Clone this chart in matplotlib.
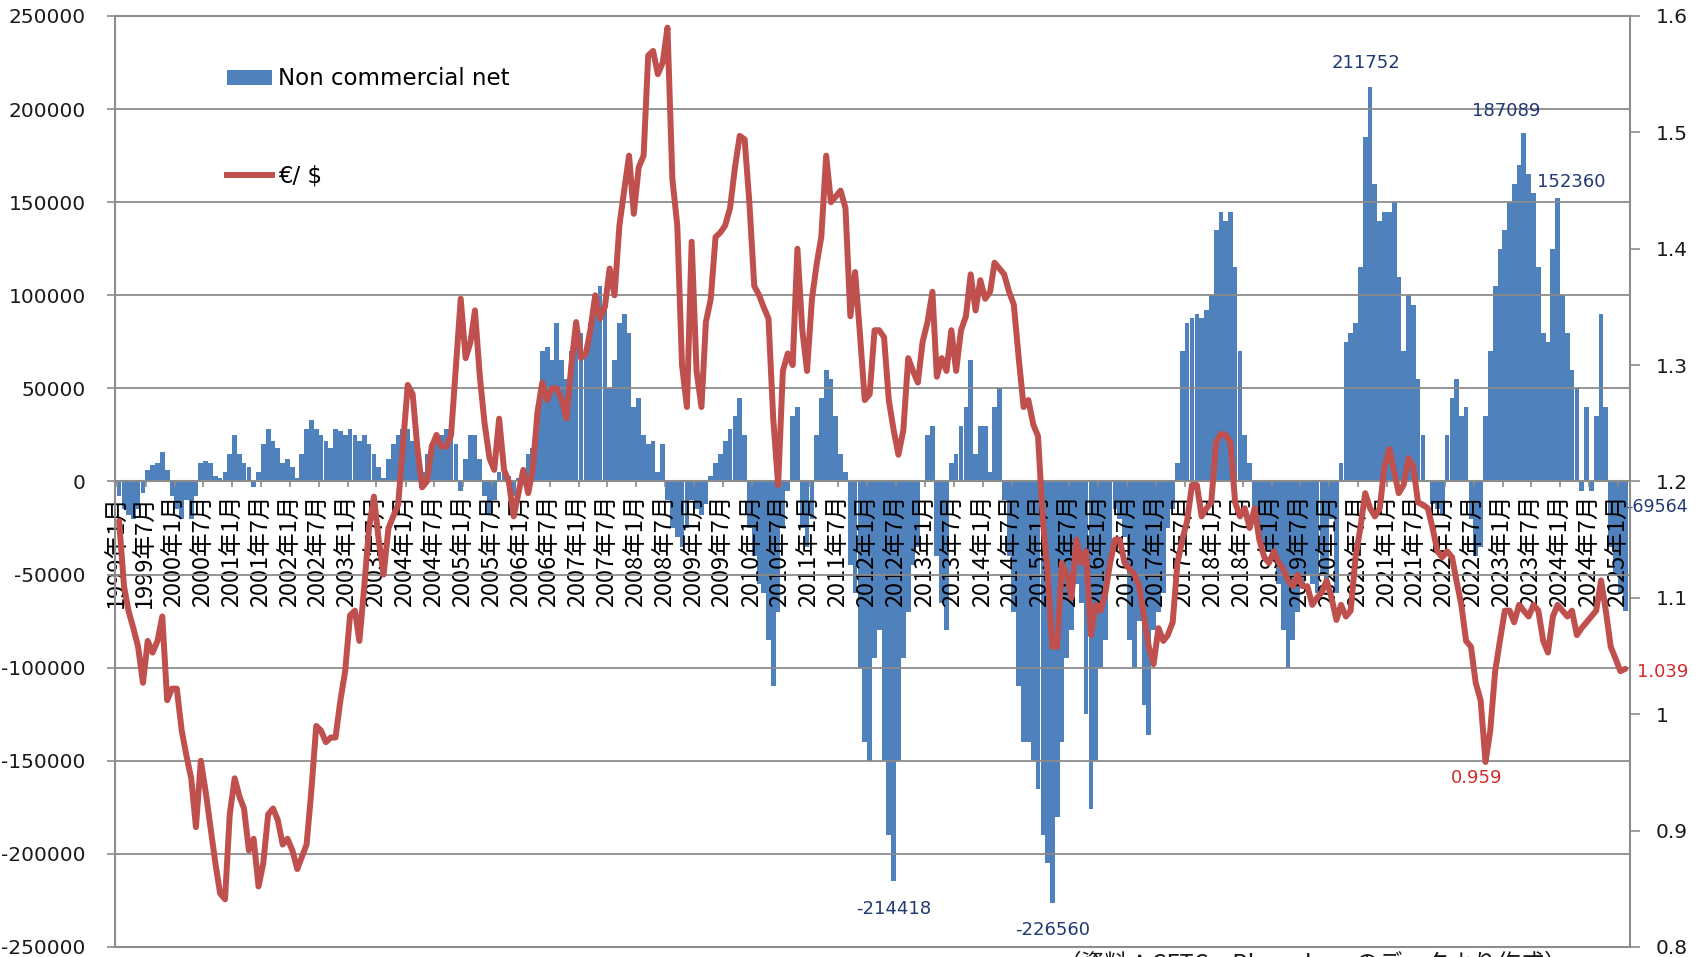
import matplotlib
matplotlib.use("Agg")
import matplotlib.dates as mdates
import matplotlib.pyplot as plt
import numpy as np
import pandas as pd
from matplotlib.lines import Line2D
from matplotlib.patches import Patch
from matplotlib.ticker import FuncFormatter, MultipleLocator

# monthly readings, Jan 1999 .. Feb 2025
# non commercial net positions (thousand contracts)
net_k = [
    -8, -15, -18, -20, -15, -6, 6, 9, 10, 16, 6, -8,                        # 1999
    -15, -20, -10, -20, -8, 10, 11, 10, 3, 2, 5, 15,                        # 2000
    25, 15, 10, 8, -3, 5, 20, 28, 22, 18, 10, 12,                           # 2001
    8, 2, 15, 28, 33, 28, 25, 22, 18, 28, 27, 25,                           # 2002
    28, 25, 22, 25, 20, 15, 8, 2, 12, 20, 25, 28,                           # 2003
    28, 22, 15, 5, 15, 20, 22, 25, 28, 25, 20, -5,                          # 2004
    12, 25, 25, 12, -8, -18, -10, 5, 6, 3, -8, 2,                           # 2005
    5, 15, 18, 35, 70, 72, 65, 85, 65, 55, 70, 80,                          # 2006
    80, 70, 85, 100, 105, 95, 50, 65, 85, 90, 80, 40,                       # 2007
    45, 25, 20, 22, 5, 20, -10, -25, -30, -35, -25, -10,                    # 2008
    -15, -18, -12, 3, 10, 15, 22, 28, 35, 45, 25, -25,                      # 2009
    -40, -55, -60, -85, -110, -70, -25, -5, 35, 40, -25, -35,               # 2010
    -20, 25, 45, 60, 55, 35, 15, 5, -45, -60, -100, -140,                   # 2011
    -150, -95, -80, -150, -190, -214.418, -150, -95, -70, -45, -35, 0,      # 2012
    25, 30, -40, -65, -80, 10, 15, 30, 40, 65, 15, 30,                      # 2013
    30, 5, 40, 50, -10, -40, -70, -110, -140, -140, -150, -165,             # 2014
    -190, -205, -226.56, -180, -140, -95, -80, -55, -65, -125, -176, -150,  # 2015
    -100, -85, -45, -15, -20, -30, -85, -100, -75, -120, -136, -80,         # 2016
    -70, -60, -25, -15, 10, 70, 85, 88, 90, 88, 92, 100,                    # 2017
    135, 145, 140, 145, 115, 70, 25, 10, -15, -30, -35, -38,                # 2018
    -40, -55, -80, -100, -85, -70, -55, -50, -55, -60, -50, -55,            # 2019
    -20, -60, 10, 75, 80, 85, 115, 185, 211.752, 160, 140, 145,             # 2020
    145, 150, 110, 70, 100, 95, 55, 25, 0, -12, -15, -18,                   # 2021
    25, 45, 55, 35, 40, -20, -40, -35, 35, 70, 105, 125,                    # 2022
    135, 150, 160, 170, 187.089, 165, 155, 115, 80, 75, 125, 152.36,        # 2023
    100, 80, 60, 50, -5, 40, -5, 35, 90, 40, -35, -50,                      # 2024
    -60, -69.564,                                                           # 2025
]

# EUR/USD
eurusd = [
    1.166, 1.11, 1.089, 1.074, 1.058, 1.027, 1.063, 1.053, 1.063, 1.084, 1.012, 1.022,
    1.022, 0.986, 0.965, 0.945, 0.903, 0.96, 0.934, 0.903, 0.872, 0.846, 0.841, 0.914,
    0.945, 0.929, 0.919, 0.883, 0.893, 0.852, 0.872, 0.914, 0.919, 0.909, 0.888, 0.893,
    0.883, 0.867, 0.877, 0.888, 0.934, 0.99, 0.986, 0.976, 0.98, 0.98, 1.012, 1.037,
    1.085, 1.089, 1.063, 1.11, 1.16, 1.187, 1.15, 1.12, 1.16, 1.17, 1.18, 1.23,
    1.283, 1.275, 1.23, 1.195, 1.2, 1.23, 1.24, 1.23, 1.23, 1.24, 1.3, 1.357,
    1.306, 1.32, 1.347, 1.29, 1.25, 1.22, 1.21, 1.254, 1.21, 1.2, 1.17, 1.19,
    1.21, 1.19, 1.21, 1.26, 1.285, 1.27, 1.28, 1.28, 1.27, 1.254, 1.3, 1.337,
    1.306, 1.31, 1.33, 1.36, 1.34, 1.35, 1.383, 1.36, 1.42, 1.45, 1.48, 1.43,
    1.47, 1.48, 1.566, 1.57, 1.55, 1.56, 1.59, 1.46, 1.42, 1.3, 1.264, 1.406,
    1.295, 1.264, 1.337, 1.357, 1.41, 1.414, 1.42, 1.435, 1.47, 1.497, 1.494, 1.44,
    1.368, 1.36, 1.35, 1.34, 1.254, 1.197, 1.295, 1.31, 1.3, 1.4, 1.33, 1.295,
    1.357, 1.388, 1.41, 1.48, 1.44, 1.445, 1.45, 1.435, 1.342, 1.38, 1.326, 1.27,
    1.275, 1.33, 1.33, 1.324, 1.27, 1.244, 1.223, 1.244, 1.306, 1.295, 1.285, 1.32,
    1.337, 1.363, 1.29, 1.306, 1.295, 1.33, 1.295, 1.33, 1.342, 1.378, 1.347, 1.373,
    1.357, 1.363, 1.388, 1.383, 1.378, 1.363, 1.352, 1.306, 1.264, 1.27, 1.249, 1.239,
    1.166, 1.12, 1.058, 1.058, 1.13, 1.12, 1.1, 1.15, 1.13, 1.14, 1.068, 1.094,
    1.089, 1.105, 1.13, 1.15, 1.15, 1.13, 1.125, 1.12, 1.11, 1.084, 1.058, 1.043,
    1.074, 1.063, 1.068, 1.079, 1.13, 1.15, 1.166, 1.197, 1.197, 1.17, 1.177, 1.182,
    1.234, 1.241, 1.24, 1.234, 1.182, 1.17, 1.177, 1.16, 1.177, 1.15, 1.135, 1.13,
    1.14, 1.13, 1.125, 1.115, 1.11, 1.12, 1.11, 1.11, 1.094, 1.1, 1.105, 1.115,
    1.1, 1.081, 1.094, 1.084, 1.089, 1.135, 1.16, 1.19, 1.177, 1.17, 1.177, 1.213,
    1.228, 1.208, 1.19, 1.197, 1.22, 1.213, 1.182, 1.18, 1.177, 1.16, 1.14, 1.135,
    1.14, 1.135, 1.115, 1.094, 1.063, 1.058, 1.027, 1.012, 0.959, 0.986, 1.037, 1.063,
    1.089, 1.089, 1.079, 1.094, 1.089, 1.084, 1.094, 1.089, 1.063, 1.053, 1.084, 1.094,
    1.089, 1.084, 1.089, 1.068, 1.074, 1.079, 1.084, 1.089, 1.115, 1.089, 1.058, 1.048,
    1.037, 1.039,
]

legend_labels = ["Non commercial net", "€/ $"]
source_note = "（資料：CFTC、Bloombergのデータより作成）"

BLUE = "#4F81BD"
RED = "#C0504D"
GRID = "#8C8C8C"
NAVY = "#1F3A73"
TAG_RED = "#D42A2A"
INK = "#1A1A1A"

months = (pd.date_range("1999-01-01", periods=len(net_k), freq="MS")
          + pd.Timedelta(days=14)).to_pydatetime()
net = np.array(net_k) * 1000
fx = np.array(eurusd)

plt.rcParams["font.family"] = ["DejaVu Sans", "Noto Sans CJK JP"]

W, H = 1708, 957
fig = plt.figure(figsize=(W / 100, H / 100), dpi=100)
ax = fig.add_axes([115 / W, 1 - 947 / H, 1515 / W, 931 / H])
ax2 = ax.twinx()

ax.bar(months, net, width=30, color=BLUE, linewidth=0, zorder=1)
ax2.plot(months, fx, color=RED, lw=4.3, solid_joinstyle="round", solid_capstyle="round")

ax.set_xlim(pd.Timestamp("1998-12-20"), pd.Timestamp("2025-03-17"))
ax.set_ylim(-250000, 250000)
ax2.set_ylim(0.8, 1.6)

# spines
ax.spines["top"].set_visible(False)
ax.spines["right"].set_visible(False)
ax.spines["left"].set_color(GRID)
ax.spines["left"].set_linewidth(1.5)
ax.spines["bottom"].set_position(("data", 0))
ax.spines["bottom"].set_color(GRID)
ax.spines["bottom"].set_linewidth(1.5)
ax2.spines["left"].set_visible(False)
for side in ["top", "bottom", "right"]:
    ax2.spines[side].set_color(GRID)
    ax2.spines[side].set_linewidth(1.5)

# x axis: labels hang from the zero line
ax.xaxis.set_major_locator(mdates.MonthLocator(bymonth=[1, 7]))
ax.xaxis.set_major_formatter(FuncFormatter(
    lambda v, p: f"{mdates.num2date(v).year}年{mdates.num2date(v).month}月"))
ax.tick_params(axis="x", direction="out", length=4.5, width=1.2, color=GRID,
               labelrotation=90, labelsize=17, pad=5, labelcolor="black",
               labelfontfamily="Noto Sans CJK JP")

ax.yaxis.set_major_locator(MultipleLocator(50000))
ax.yaxis.set_major_formatter(FuncFormatter(lambda v, p: f"{v:.0f}"))
ax.tick_params(axis="y", direction="out", length=6, width=1.2, color=GRID,
               labelsize=14.5, pad=15, labelcolor=INK)
ax.yaxis.grid(True, color=GRID, lw=1.3)

ax2.yaxis.set_major_locator(MultipleLocator(0.1))
ax2.yaxis.set_major_formatter(FuncFormatter(lambda v, p: f"{round(v, 2):g}"))
ax2.tick_params(axis="y", direction="out", length=7.5, width=1.2, color=GRID,
                labelsize=14.5, pad=11, labelcolor=INK)

# legend
handles = [Patch(facecolor=BLUE, edgecolor="none"), Line2D([], [], color=RED, lw=4.3)]
ax2.legend(handles, legend_labels, loc="upper left", bbox_to_anchor=(0.074, 0.945),
           frameon=False, fontsize=16.5, labelspacing=3.25, handlelength=1.96,
           handleheight=0.62, handletextpad=0.26, borderpad=0, borderaxespad=0)


def tag(axis, x, y, text, dx, dy, color, ha="center", size=13):
    axis.annotate(text, xy=(x, y), xytext=(dx, dy), textcoords="offset pixels",
                  ha=ha, va="center", color=color, fontsize=size)


i_max = int(np.argmax(net))
i_min = int(np.argmin(net))
i_2012 = net_k.index(-214.418)
i_2023 = net_k.index(187.089)
i_2024 = net_k.index(152.36)
last = len(net) - 1
i_fx = eurusd.index(0.959)

tag(ax, months[i_max], net[i_max], f"{net[i_max]:.0f}", -4, 24, NAVY)
tag(ax, months[i_2023], net[i_2023], f"{net[i_2023]:.0f}", -18, 22, NAVY)
tag(ax, months[i_2024], net[i_2024], f"{net[i_2024]:.0f}", 14, 16, NAVY)
tag(ax, months[i_2012], net[i_2012], f"{net[i_2012]:.0f}", 0, -28, NAVY)
tag(ax, months[i_min], net[i_min], f"{net[i_min]:.0f}", 0, -27, NAVY)
tag(ax, months[last], net[last], f"{net[last]:.0f}", 1, 104, NAVY, ha="left", size=12.5)
tag(ax2, months[i_fx], fx[i_fx], f"{fx[i_fx]:.3f}", -9, -16, TAG_RED)
tag(ax2, months[last], fx[last], f"{fx[last]:.3f}", 12, -3, TAG_RED, ha="left")

# source note, cut by the lower edge as in the original
fig.text(1058 / W, 1 - 951 / H, source_note, fontsize=17, family="Noto Sans CJK JP",
         ha="left", va="top", color=INK)

fig.savefig("out.png", dpi=100)
